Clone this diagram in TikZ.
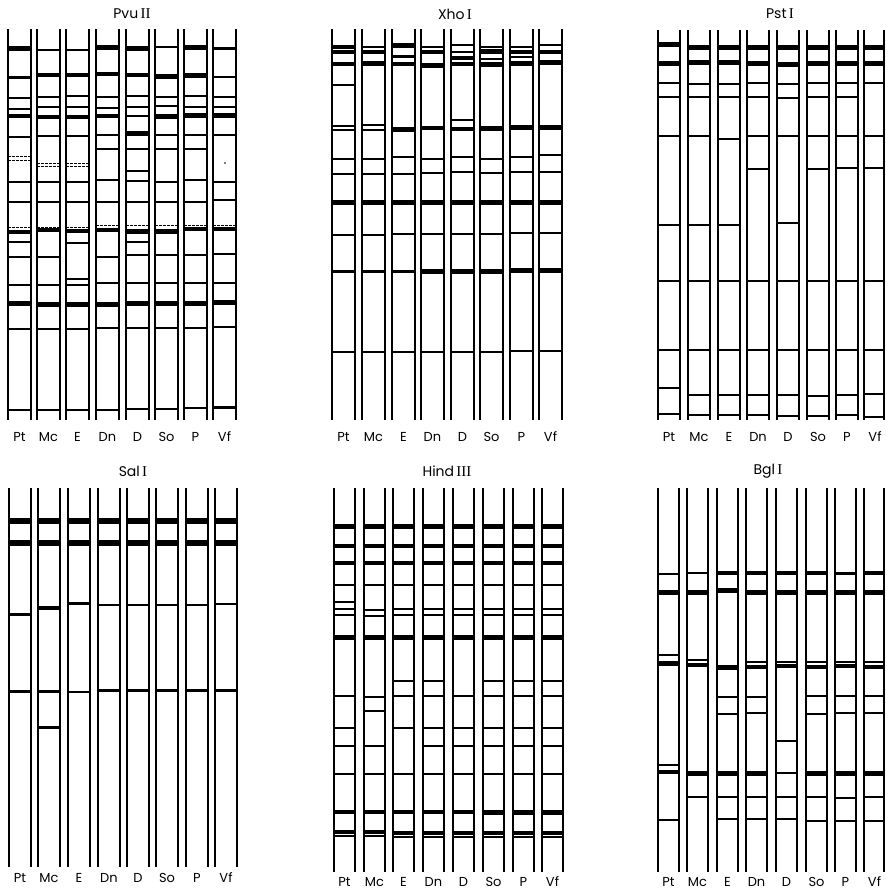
\documentclass[tikz,border=0pt]{standalone}
\usepackage{fontspec}
\setmainfont{Poppins}
\newfontfamily\romnum{Liberation Serif}
\tikzset{
  wall/.style={line width=1.8pt},
  dband/.style={line width=0.9pt, dash pattern=on 2.5pt off 1.5pt},
  lbl/.style={font=\fontsize{13}{13}\selectfont, inner sep=0pt},
  ttl/.style={font=\fontsize{14}{14}\selectfont, inner sep=0pt},
}
% #1 left, #2 width, #3 top, #4 bottom, #5 band list (y/width)
\newcommand\gellane[5]{%
  \draw[wall] (#1,#3) -- (#1,#4);
  \draw[wall] ({#1+#2},#3) -- ({#1+#2},#4);
  \foreach \yy/\ww in {#5} {\draw[line width=\ww pt] (#1,\yy) -- ({#1+#2},\yy);}
}
\begin{document}
\begin{tikzpicture}[x=1pt,y=-1pt]
\fill[white] (0,0) rectangle (886,892);
\useasboundingbox (0,0) rectangle (886,892);

% ---------------- Panel 1: PvuII ----------------
\node[ttl] (t1) at (132,14) {Pvu\,{\romnum\fontsize{15}{15}\selectfont II}};
\gellane{8}{23}{29}{420}{48/5,77/3,98/1.8,109/1.8,116/4,137/1.8,182/1.8,202/1.8,232/4.5,242/1.8,257/1.8,285/1.8,303/5,329/1.8,410/1.8}
\gellane{37}{23}{29}{420}{50/2.5,75/4,97/1.8,107/1.8,117/4.5,136/1.8,182/1.8,202/1.8,230/4,257/1.8,285/1.8,304/5,329/1.8,410/1.8}
\gellane{66}{23}{29}{420}{50/2.5,75/4,96/1.8,107/1.8,117/4.5,136/1.8,182/1.8,202/1.8,231/4,243/1.8,279/1.8,285/1.8,304/5,329/1.8,410/1.8}
\gellane{96}{23}{29}{420}{47/5,74/4,97/1.8,108/1.8,116/4,135/1.8,149/1.8,180/1.8,202/1.8,230/4,257/1.8,283/1.8,304/5,328/1.8,410/1.8}
\gellane{126}{23}{29}{420}{48/5,75/4,96/1.8,107/2.5,116/1.8,133/5,149/1.8,171/1.8,181/1.8,202/1.8,231/5,242/1.8,255/1.8,283/1.8,303/5,328/1.8,409/1.8}
\gellane{155}{23}{29}{420}{47/2.5,76/5,97/1.8,106/1.8,116/5,135/1.8,149/1.8,182/1.8,202/1.8,231/5,255/1.8,283/1.8,303/5,328/1.8,409/1.8}
\gellane{184}{23}{29}{420}{47/5,75/5,96/1.8,107/1.8,115/5,135/1.8,149/1.8,180/1.8,202/1.8,229/4,255/1.8,283/1.8,303/5,328/1.8,408/1.8}
\gellane{213}{23}{29}{420}{48/3,77/2,97/1.8,107/1.8,115/5,135/1.8,182/1.8,200/1.8,229/4,254/1.8,283/1.8,302/5,327/1.8,407/3}
\foreach \lx/\yy in {8/156,8/160,37/163,37/166,66/163,66/166,8/227,37/227,66/227,96/225,126/225,155/225,184/225,213/225}
  {\draw[dband] (\lx,\yy) -- ({\lx+23},\yy);}
\fill (225,163) circle (0.8);
\foreach \lx/\t in {8/Pt,37/Mc,66/E,96/Dn,126/D,155/So,184/P,213/Vf}
  {\node[lbl] (a\t) at ({\lx+11.5},437) {\t};}

% ---------------- Panel 2: XhoI ----------------
\node[ttl] (t2) at (455,14) {Xho\,{\romnum\fontsize{15}{15}\selectfont I}};
\gellane{332}{23}{29}{420}{47/4,52/4,64/4,85/1.8,126/1.8,130/1.8,159/1.8,174/1.8,202/5,235/1.8,271/3,352/1.8}
\gellane{362}{23}{29}{420}{47/2,52/4,63/5,125/1.8,130/1.8,159/1.8,174/1.8,202/5,235/1.8,271/3,352/1.8}
\gellane{392}{23}{29}{420}{45/5,56/3,64/4,129/5,157/1.8,174/1.8,202/5,234/1.8,271/3,352/1.8}
\gellane{421}{23}{29}{420}{47/2,52/4,65/5,128/4,159/1.8,173/1.8,202/5,234/1.8,271/5,352/1.8}
\gellane{451}{23}{29}{420}{45/2,52/2,58/4,64/4,120/2,129/4,157/1.8,172/1.8,202/5,234/1.8,271/5,352/1.8}
\gellane{480}{23}{29}{420}{47/2,51/5,59/2,64/5,128/5,159/1.8,173/1.8,202/5,234/1.8,271/5,352/1.8}
\gellane{510}{23}{29}{420}{47/2,52/4,57/2,63/5,127/5,157/1.8,172/1.8,202/5,233/1.8,270/5,351/1.8}
\gellane{539}{23}{29}{420}{45/2,52/4,62/5,127/5,155/1.8,172/1.8,202/5,233/1.8,270/5,351/1.8}
\foreach \lx/\t in {332/Pt,362/Mc,392/E,421/Dn,451/D,480/So,510/P,539/Vf}
  {\node[lbl] (b\t) at ({\lx+11.5},437) {\t};}

% ---------------- Panel 3: PstI ----------------
\node[ttl] (t3) at (780,14) {Pst\,{\romnum\fontsize{15}{15}\selectfont I}};
\gellane{658}{22}{30}{420}{44/5,63/5,83/1.8,97/1.8,136/1.8,225/1.8,281/1.8,350/1.8,388/1.8,414/1.8}
\gellane{688}{22}{30}{420}{47/5,62/5,84/1.8,97/1.8,136/1.8,225/1.8,281/1.8,350/1.8,395/1.8,415/1.8}
\gellane{718}{22}{30}{420}{47/5,62/5,84/1.8,97/1.8,139/1.8,225/1.8,281/1.8,350/1.8,395/1.8,415/1.8}
\gellane{747}{22}{30}{420}{47/5,63/5,83/1.8,97/1.8,136/1.8,169/1.8,281/1.8,350/1.8,395/1.8,415/1.8}
\gellane{777}{22}{30}{420}{47/5,64/5,84/1.8,98/1.8,136/1.8,223/1.8,281/1.8,350/1.8,395/1.8,416/1.8}
\gellane{807}{22}{30}{420}{47/5,63/5,83/1.8,97/1.8,136/1.8,169/1.8,281/1.8,350/1.8,396/1.8,416/1.8}
\gellane{836}{22}{30}{420}{47/5,63/5,83/1.8,97/1.8,136/1.8,168/1.8,281/1.8,350/1.8,395/1.8,415/1.8}
\gellane{864}{20}{30}{420}{47/5,63/5,83/1.8,136/1.8,168/1.8,281/1.8,350/1.8,394/1.8,417/1.8}
\foreach \lx/\t in {658/Pt,688/Mc,718/E,747/Dn,777/D,807/So,836/P,864/Vf}
  {\node[lbl] (c\t) at ({\lx+11},437) {\t};}

% ---------------- Panel 4: SalI ----------------
\node[ttl] (t4) at (133,471) {Sal\,{\romnum\fontsize{15}{15}\selectfont I}};
\gellane{9}{22}{488}{867}{521/6,543/6,614/3,691/3}
\gellane{38}{22}{488}{867}{521/6,543/6,608/3.5,691/3,727/3}
\gellane{68}{22}{488}{867}{521/6,543/6,603/3,692/2.5}
\gellane{98}{22}{488}{867}{521/6,543/6,605/2.5,690/3}
\gellane{127}{22}{488}{867}{521/6,543/6,605/2.5,690/3}
\gellane{156}{22}{488}{867}{521/6,543/6,605/2.5,690/3}
\gellane{186}{22}{488}{867}{521/6,543/6,605/2.5,690/3}
\gellane{215}{22}{488}{867}{521/6,543/6,604/2.5,690/3}
\foreach \lx/\t in {9/Pt,38/Mc,68/E,98/Dn,127/D,156/So,186/P,215/Vf}
  {\node[lbl] (d\t) at ({\lx+11},878) {\t};}

% ---------------- Panel 5: HindIII ----------------
\node[ttl] (t5) at (447,471) {Hind\,{\romnum\fontsize{15}{15}\selectfont III}};
\gellane{334}{21}{488}{872}{526/5,546/4.5,563/4.5,585/2,602/1.8,609/1.8,615/1.8,637/5,696/1.8,728/1.8,746/1.8,774/1.8,812/4,832/4,836/1.8}
\gellane{364}{21}{488}{872}{526/5,546/4.5,563/4.5,585/2,610/1.8,616/1.8,637/5,697/1.8,711/1.8,746/1.8,774/1.8,812/4,832/4,836/1.8}
\gellane{393}{21}{488}{872}{526/5,546/4.5,563/4.5,585/2,609/1.8,615/1.8,637/5,681/1.8,696/1.8,728/1.8,774/1.8,812/4,833/4,837/1.8}
\gellane{423}{21}{488}{872}{526/5,546/4.5,563/4.5,585/2,609/1.8,615/1.8,637/5,681/1.8,696/1.8,728/1.8,746/1.8,774/1.8,812/4,833/4,837/1.8}
\gellane{453}{21}{488}{872}{526/5,546/4.5,563/4.5,585/2,609/1.8,615/1.8,637/5,696/1.8,728/1.8,746/1.8,774/1.8,812/4,833/4,837/1.8}
\gellane{483}{21}{488}{872}{526/5,546/4.5,563/4.5,585/2,609/1.8,615/1.8,637/5,681/1.8,696/1.8,728/1.8,746/1.8,774/1.8,812/5,833/4,837/1.8}
\gellane{513}{21}{488}{872}{526/5,546/4.5,563/4.5,585/2,609/1.8,615/1.8,637/5,681/1.8,696/1.8,728/1.8,746/1.8,774/1.8,812/5,833/4,837/1.8}
\gellane{542}{21}{488}{872}{526/5,546/4.5,563/4.5,585/2,609/1.8,615/1.8,637/5,681/1.8,696/1.8,728/1.8,746/1.8,774/1.8,812/5,833/4,837/1.8}
\foreach \lx/\t in {334/Pt,364/Mc,393/E,423/Dn,453/D,483/So,513/P,542/Vf}
  {\node[lbl] (e\t) at ({\lx+10.5},882) {\t};}

% ---------------- Panel 6: BglI ----------------
\node[ttl] (t6) at (768,471) {Bgl\,{\romnum\fontsize{15}{15}\selectfont I}};
\gellane{658}{21}{488}{872}{574/2,592/5,655/2,663/5,765/2,772/4,820/1.8}
\gellane{687}{21}{488}{872}{573/2,592/5,660/2,665/4,773/5,797/1.8}
\gellane{717}{21}{488}{872}{573/4,590/5,667/5,697/1.8,714/1.8,773/5,797/1.8,819/1.8}
\gellane{746}{21}{488}{872}{573/4,592/5,662/2,667/4,697/1.8,713/1.8,773/5,797/1.8,819/1.8}
\gellane{776}{21}{488}{872}{573/4,592/5,662/2,666/4,741/1.8,773/2,797/1.8,819/1.8}
\gellane{806}{21}{488}{872}{573/4,592/5,662/2,667/4,696/1.8,714/1.8,773/5,797/1.8,821/1.8}
\gellane{835}{21}{488}{872}{573/3,592/5,662/2,666/4,696/1.8,713/1.8,773/5,798/1.8,821/1.8}
\gellane{864}{20}{488}{872}{573/4,592/5,662/2,667/4,696/1.8,713/1.8,773/5,797/1.8,821/1.8}
\foreach \lx/\t in {658/Pt,687/Mc,717/E,746/Dn,776/D,806/So,835/P,864/Vf}
  {\node[lbl] (f\t) at ({\lx+10.5},882) {\t};}
\end{tikzpicture}
\end{document}
